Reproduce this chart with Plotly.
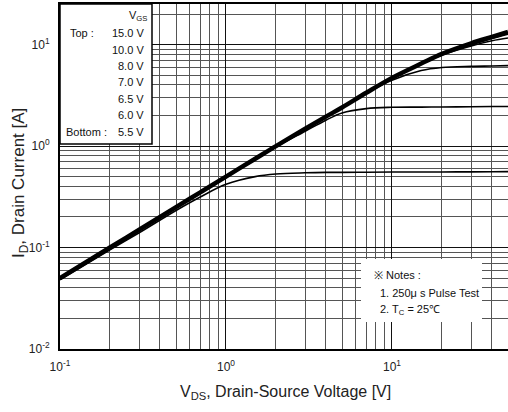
import numpy as np
import plotly.graph_objects as go

# Drain-source voltage sample points [V]
vds = [0.1, 0.2, 0.3, 0.5, 0.7, 1.0, 1.5, 2.0, 3.0, 4.0, 5.0, 7.0, 10.0, 15.0, 20.0, 30.0, 40.0, 50.0]

# Drain current [A] for each gate-source voltage
id_15v = [0.05, 0.10, 0.15, 0.25, 0.35, 0.50, 0.75, 1.00, 1.48, 1.95, 2.40, 3.35, 4.70, 6.50, 8.10, 10.3, 11.9, 13.3]
id_10v = [0.05, 0.10, 0.15, 0.25, 0.35, 0.50, 0.75, 1.00, 1.48, 1.95, 2.40, 3.35, 4.70, 6.50, 8.10, 10.2, 11.8, 13.1]
id_8v = [0.05, 0.10, 0.15, 0.25, 0.35, 0.50, 0.75, 1.00, 1.48, 1.95, 2.40, 3.35, 4.70, 6.50, 8.05, 10.0, 11.5, 12.7]
id_7v = [0.05, 0.10, 0.15, 0.25, 0.35, 0.50, 0.75, 1.00, 1.48, 1.95, 2.40, 3.35, 4.70, 6.45, 7.90, 9.70, 10.9, 11.6]
id_6v5 = [0.05, 0.10, 0.15, 0.25, 0.35, 0.50, 0.75, 1.00, 1.48, 1.95, 2.40, 3.30, 4.45, 5.55, 5.95, 6.10, 6.15, 6.20]
id_6v = [0.05, 0.10, 0.15, 0.25, 0.35, 0.49, 0.74, 0.98, 1.40, 1.80, 2.12, 2.34, 2.41, 2.42, 2.43, 2.44, 2.45, 2.45]
id_5v5 = [0.048, 0.095, 0.14, 0.232, 0.315, 0.42, 0.50, 0.53, 0.545, 0.55, 0.55, 0.552, 0.555, 0.555, 0.556, 0.557, 0.558, 0.56]

vgs_labels = ["15.0 V", "10.0 V", "8.0 V", "7.0 V", "6.5 V", "6.0 V", "5.5 V"]
curves = [id_15v, id_10v, id_8v, id_7v, id_6v5, id_6v, id_5v5]
widths = [4.5, 2.0, 1.6, 1.6, 1.6, 1.6, 1.6]

# Axis ticks
x_major = [0.1, 1, 10]
x_major_text = ["10<sup>-1</sup>", "10<sup>0</sup>", "10<sup>1</sup>"]
y_major = [0.01, 0.1, 1, 10]
y_major_text = ["10<sup>-2</sup>", "10<sup>-1</sup>", "10<sup>0</sup>", "10<sup>1</sup>"]

W, H = 508, 412
ML, MR, MT, MB = 60, 0, 4, 63
PW, PH = W - ML - MR, H - MT - MB


def px(x):
    return (x - ML) / PW


def py(y):
    return (H - MB - y) / PH


def minor_vals(lo, hi):
    vals = []
    for e in range(lo, hi + 1):
        for m in range(2, 10):
            vals.append(m * 10.0 ** e)
    return vals


fig = go.Figure()
for lab, cur, w in zip(vgs_labels, curves, widths):
    fig.add_trace(go.Scatter(
        x=vds, y=cur, mode="lines", name=lab,
        line=dict(color="black", width=w, shape="spline", smoothing=1.0),
        showlegend=False,
    ))

font_main = "Liberation Sans, Arial, sans-serif"
font_narrow = "Liberation Sans Narrow, Arial Narrow, Liberation Sans, Arial, sans-serif"

fig.update_xaxes(
    type="log", range=[-1, np.log10(50)],
    tickvals=x_major, ticktext=x_major_text,
    showgrid=True, gridcolor="#111", gridwidth=1.2,
    minor=dict(tickvals=minor_vals(-1, 1), showgrid=True, gridcolor="#555", gridwidth=1.2, ticks=""),
    showline=True, linecolor="black", linewidth=2, mirror=True,
    ticks="", tickfont=dict(family=font_main, size=12, color="#222"),
    ticklabelstandoff=6, zeroline=False,
)
fig.update_yaxes(
    type="log", range=[-2, 1.4],
    tickvals=y_major, ticktext=y_major_text,
    showgrid=True, gridcolor="#111", gridwidth=1.2,
    minor=dict(tickvals=minor_vals(-2, 1), showgrid=True, gridcolor="#555", gridwidth=1.2, ticks=""),
    showline=True, linecolor="black", linewidth=2, mirror=False,
    ticks="", tickfont=dict(family=font_main, size=12, color="#222"),
    ticklabelstandoff=6, zeroline=False,
)

shapes = [
    # V_GS key box
    dict(type="rect", xref="paper", yref="paper", x0=px(60), x1=px(152), y0=py(144), y1=py(4),
         fillcolor="white", line=dict(color="black", width=1.5), layer="above"),
    # notes box
    dict(type="rect", xref="paper", yref="paper", x0=px(361), x1=px(482), y0=py(322), y1=py(259),
         fillcolor="white", line=dict(width=0), layer="above"),
]

ann = []
ann.append(dict(text="V<sub>GS</sub>", x=px(138), y=py(16), xref="paper", yref="paper",
                xanchor="center", yanchor="middle", showarrow=False,
                font=dict(family=font_narrow, size=11, color="#111")))
key_y = [33, 49.5, 66, 82.5, 99, 115.5, 132]
for lab, yy in zip(vgs_labels, key_y):
    ann.append(dict(text=lab, x=px(146), y=py(yy), xref="paper", yref="paper",
                    xanchor="right", yanchor="middle", showarrow=False,
                    font=dict(family=font_narrow, size=11, color="#111")))
ann.append(dict(text="Top :", x=px(68), y=py(33), xref="paper", yref="paper",
                xanchor="left", yanchor="middle", showarrow=False,
                font=dict(family=font_narrow, size=11, color="#111")))
ann.append(dict(text="Bottom :", x=px(64), y=py(132), xref="paper", yref="paper",
                xanchor="left", yanchor="middle", showarrow=False,
                font=dict(family=font_narrow, size=11, color="#111")))

notes = [("※ Notes :", 372, 275), ("1. 250μ s Pulse Test", 378, 293), ("2. T<sub>C</sub> = 25℃", 378, 310)]
for t, xx, yy in notes:
    ann.append(dict(text=t, x=px(xx), y=py(yy), xref="paper", yref="paper",
                    xanchor="left", yanchor="middle", showarrow=False,
                    font=dict(family=font_narrow, size=11, color="#111")))

ann.append(dict(text="V<sub>DS</sub>, Drain-Source Voltage [V]", x=px(285), y=py(392),
                xref="paper", yref="paper", xanchor="center", yanchor="middle", showarrow=False,
                font=dict(family=font_main, size=16, color="#222")))
ann.append(dict(text="I<sub>D</sub>, Drain Current [A]", x=px(20), y=py(183),
                xref="paper", yref="paper", xanchor="center", yanchor="middle", showarrow=False,
                textangle=-90, font=dict(family=font_main, size=17, color="#222")))

fig.update_layout(
    width=W, height=H,
    margin=dict(l=ML, r=MR, t=MT, b=MB),
    paper_bgcolor="white", plot_bgcolor="white",
    shapes=shapes, annotations=ann,
)

fig.write_html("out.html")
